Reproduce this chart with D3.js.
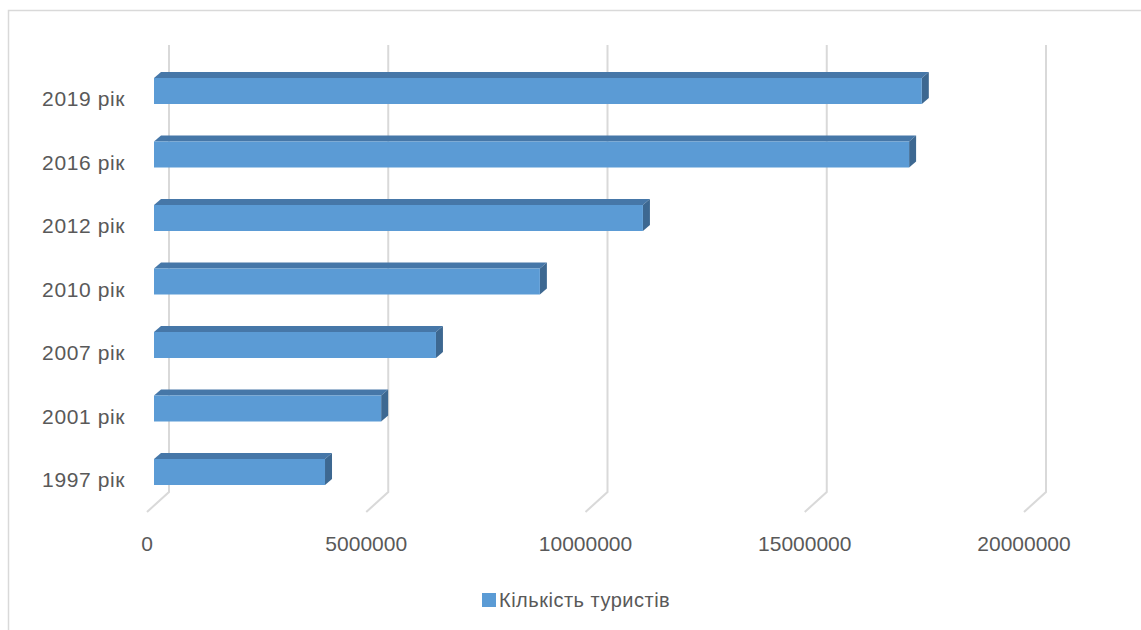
<!DOCTYPE html>
<html><head><meta charset="utf-8">
<script src="https://cdn.jsdelivr.net/npm/d3@7"></script>
<style>html,body{margin:0;padding:0;background:#fff;}svg{display:block;}</style>
</head><body>
<svg id="c" width="1141" height="630"></svg>
<script>
const categories = ["1997 рік","2001 рік","2007 рік","2010 рік","2012 рік","2016 рік","2019 рік"];
const values = [3900000, 5180000, 6430000, 8800000, 11150000, 17220000, 17510000];
const tickValues = [0, 5000000, 10000000, 15000000, 20000000];
const seriesName = "Кількість туристів";

const svg = d3.select("#c");
const font = "'Liberation Sans', Arial, sans-serif";
const textCol = "#595959";

// outer chart frame
svg.append("rect").attr("x",8.5).attr("y",10.5).attr("width",1160).attr("height",640)
  .attr("fill","none").attr("stroke","#d9d9d9").attr("stroke-width",1.5);

const dom = [0, 20000000];
const xBack = d3.scaleLinear().domain(dom).range([169, 1046]);
const xBar = d3.scaleLinear().domain(dom).range([154, 1031]);
const xFloor = d3.scaleLinear().domain(dom).range([147, 1024]);
const y = d3.scaleBand().domain(categories.slice().reverse()).range([67.25, 511.75]);

const floorBack = 492, floorFront = 512, wallTop = 45;

// back wall gridlines + floor diagonals
const g = svg.append("g");
tickValues.forEach(t => {
  g.append("path")
   .attr("d", `M${xBack(t)},${wallTop} L${xBack(t)},${floorBack} L${xFloor(t)},${floorFront}`)
   .attr("fill","none").attr("stroke","#d9d9d9").attr("stroke-width",2);
});

// axis tick labels
svg.append("g").selectAll("text").data(tickValues).join("text")
  .attr("x", d => xFloor(d)).attr("y", 551)
  .attr("text-anchor","middle").attr("font-family",font).attr("font-size",21)
  .attr("fill",textCol).text(d => d3.format("d")(d));

// category labels
svg.append("g").selectAll("text").data(categories).join("text")
  .attr("x", 125).attr("y", d => y(d) + y.bandwidth()/2)
  .attr("dy","0.35em").attr("text-anchor","end").attr("font-family",font).attr("font-size",21)
  .attr("letter-spacing",0.6)
  .attr("fill",textCol).text(d => d);

// 3D bars
const dx = 7, dy = -6, h = 26, off = -8;
const data = categories.map((c,i)=>({c, v: values[i]}));
const bars = svg.append("g").selectAll("g").data(data).join("g");
bars.each(function(d){
  const el = d3.select(this);
  const cy = y(d.c) + y.bandwidth()/2 + off;
  const yt = cy - h/2, yb = cy + h/2;
  const x0 = xBar(0), x1 = xBar(d.v);
  el.append("path").attr("d",`M${x0},${yt} L${x0+dx},${yt+dy} L${x1+dx},${yt+dy} L${x1},${yt} Z`)
    .attr("fill","#4677a8");
  el.append("path").attr("d",`M${x1},${yt} L${x1+dx},${yt+dy} L${x1+dx},${yb+dy} L${x1},${yb} Z`)
    .attr("fill","#3d6891");
  el.append("rect").attr("x",x0).attr("y",yt).attr("width",x1-x0).attr("height",h)
    .attr("fill","#5b9bd5");
});

// legend
const lg = svg.append("g");
lg.append("rect").attr("x",482).attr("y",593).attr("width",14).attr("height",14).attr("fill","#5b9bd5");
lg.append("text").attr("x",499).attr("y",600).attr("dy","0.35em")
  .attr("font-family",font).attr("font-size",20).attr("letter-spacing",0.5)
  .attr("fill",textCol).text(seriesName);
</script>
</body></html>
